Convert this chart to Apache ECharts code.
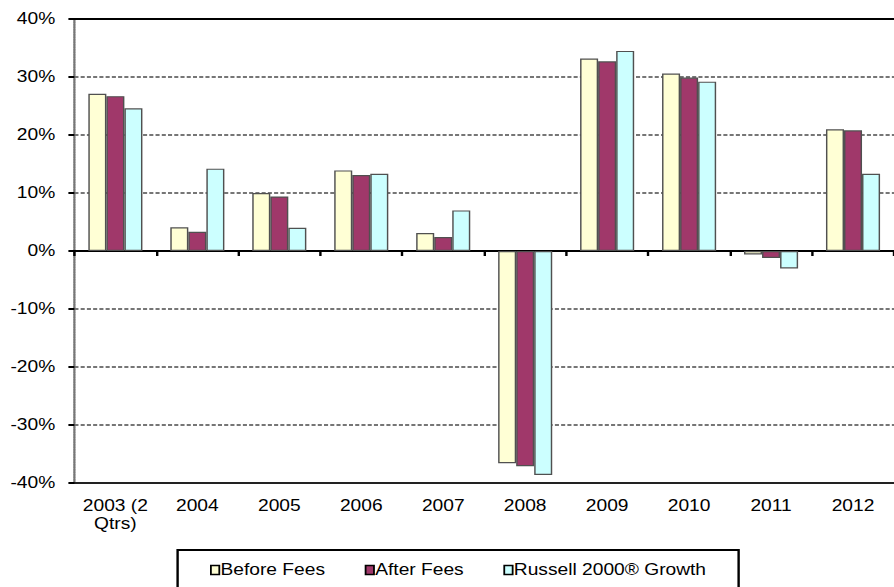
<!DOCTYPE html>
<html>
<head>
<meta charset="utf-8">
<script src="https://cdn.jsdelivr.net/npm/echarts@6/dist/echarts.min.js"></script>
<style>
  html, body { margin: 0; padding: 0; background: #fff; overflow: hidden; }
  /* the chart is laid out narrow and widened 1.2x, giving the wide lettering */
  #chart { width: 745px; height: 587px; transform: scaleX(1.2); transform-origin: 0 0; }
</style>
</head>
<body>
<div id="chart"></div>
<script>
// Annual returns (%)
const categories = ['2003 (2\nQtrs)', '2004', '2005', '2006', '2007', '2008', '2009', '2010', '2011', '2012'];
const beforeFees = [27.1, 4.1, 10.0, 13.9, 3.1, -36.6, 33.2, 30.6, -0.6, 21.0];
const afterFees = [26.7, 3.3, 9.4, 13.1, 2.4, -37.1, 32.7, 29.9, -1.2, 20.8];
const russellGrowth = [24.6, 14.2, 4.0, 13.3, 7.0, -38.6, 34.5, 29.2, -3.0, 13.3];
const seriesNames = ['Before Fees', 'After Fees', 'Russell 2000® Growth'];
const yTicks = { min: -40, max: 40, interval: 10 };

const font = 'Liberation Sans, Arial, sans-serif';
const chart = echarts.init(document.getElementById('chart'), null, { renderer: 'svg' });

const barStyle = (color) => ({ color: color, borderColor: '#505050', borderWidth: 1.2 });

chart.setOption({
  animation: false,
  backgroundColor: '#ffffff',
  textStyle: { fontFamily: font },
  grid: { left: 62, right: 0, top: 19, bottom: 104, containLabel: false },
  legend: {
    data: seriesNames,
    left: 148,
    top: 550,
    padding: [12, 27, 20, 27],
    itemGap: 33,
    itemWidth: 7,
    itemHeight: 9,
    icon: 'rect',
    borderColor: '#000',
    borderWidth: 2,
    borderRadius: 0,
    itemStyle: { borderColor: '#000', borderWidth: 1.5 },
    textStyle: { fontFamily: font, fontSize: 16, color: '#000', padding: [0, 0, 0, -4] }
  },
  xAxis: [
    {
      // zero line with category-boundary ticks
      type: 'category',
      data: categories,
      position: 'bottom',
      axisLine: { onZero: true, lineStyle: { color: '#000', width: 2 } },
      axisTick: { show: true, interval: 0, length: 5, lineStyle: { color: '#000', width: 2 } },
      axisLabel: { show: false },
      splitLine: { show: false }
    },
    {
      // bottom edge carrying the year labels
      type: 'category',
      data: categories,
      position: 'bottom',
      axisLine: { onZero: false, lineStyle: { color: '#222', width: 2 } },
      axisTick: { show: false },
      axisLabel: { interval: 0, fontFamily: font, fontSize: 16, color: '#000', margin: 14, lineHeight: 18 },
      splitLine: { show: false }
    },
    {
      // top edge of the plot frame
      type: 'category',
      data: categories,
      position: 'top',
      axisLine: { onZero: false, lineStyle: { color: '#000', width: 2 } },
      axisTick: { show: false },
      axisLabel: { show: false }
    }
  ],
  yAxis: {
    type: 'value',
    min: yTicks.min,
    max: yTicks.max,
    interval: yTicks.interval,
    axisLine: { show: true, lineStyle: { color: '#777', width: 2, type: [1.5, 1] } },
    axisTick: { show: true, length: 5, lineStyle: { color: '#000', width: 2 } },
    axisLabel: { fontFamily: font, fontSize: 16, color: '#000', margin: 16, formatter: '{value}%' },
    splitLine: { show: true, lineStyle: { color: '#4a4a4a', width: 1.6, type: [3.4, 1.8] } }
  },
  series: [
    { name: seriesNames[0], type: 'bar', xAxisIndex: 0, data: beforeFees, barGap: '0%', barCategoryGap: '34%', itemStyle: barStyle('#FFFFD5') },
    { name: seriesNames[1], type: 'bar', xAxisIndex: 0, data: afterFees, barGap: '0%', barCategoryGap: '34%', itemStyle: barStyle('#A0386A') },
    { name: seriesNames[2], type: 'bar', xAxisIndex: 0, data: russellGrowth, barGap: '0%', barCategoryGap: '34%', itemStyle: barStyle('#CCFFFF') }
  ]
});
</script>
</body>
</html>
